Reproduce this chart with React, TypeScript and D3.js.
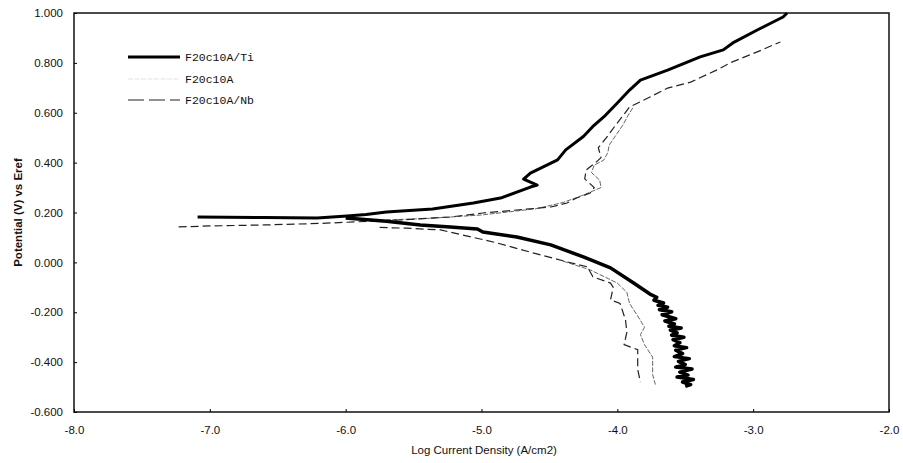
import { useEffect, useRef } from "react";
import * as d3 from "d3";

// [log current density, potential V]
const tiAnodic: [number, number][] = [
  [-7.09, 0.182], [-6.6, 0.18], [-6.21, 0.178], [-5.99, 0.186], [-5.85, 0.192], [-5.7, 0.202],
  [-5.36, 0.214], [-5.06, 0.238], [-4.86, 0.258], [-4.64, 0.302], [-4.59, 0.31], [-4.69, 0.334],
  [-4.64, 0.358], [-4.44, 0.411], [-4.38, 0.451], [-4.25, 0.505], [-4.18, 0.545], [-4.1, 0.583],
  [-4.0, 0.639], [-3.91, 0.691], [-3.83, 0.731], [-3.63, 0.771], [-3.39, 0.824], [-3.22, 0.852],
  [-3.15, 0.88], [-2.97, 0.932], [-2.78, 0.984], [-2.75, 1.0],
];
const tiCathodic: [number, number][] = [
  [-6.0, 0.178], [-5.7, 0.165], [-5.45, 0.15], [-5.23, 0.142], [-5.03, 0.134], [-4.99, 0.122],
  [-4.74, 0.102], [-4.49, 0.07], [-4.25, 0.022], [-4.05, -0.022], [-3.88, -0.083], [-3.76, -0.127],
  [-3.71, -0.14], [-3.73, -0.152], [-3.66, -0.163], [-3.7, -0.172], [-3.63, -0.18], [-3.69, -0.19],
  [-3.6, -0.198], [-3.67, -0.21], [-3.62, -0.218], [-3.57, -0.226], [-3.65, -0.235], [-3.58, -0.247],
  [-3.62, -0.256], [-3.53, -0.263], [-3.61, -0.272], [-3.56, -0.283], [-3.6, -0.292], [-3.51, -0.3],
  [-3.59, -0.31], [-3.54, -0.322], [-3.58, -0.334], [-3.49, -0.342], [-3.57, -0.352], [-3.52, -0.366],
  [-3.58, -0.378], [-3.47, -0.386], [-3.55, -0.397], [-3.5, -0.41], [-3.57, -0.42], [-3.45, -0.428],
  [-3.54, -0.44], [-3.48, -0.452], [-3.56, -0.46], [-3.44, -0.47], [-3.52, -0.48], [-3.46, -0.49],
  [-3.5, -0.497],
];
const baseAnodic: [number, number][] = [
  [-5.8, 0.168], [-5.4, 0.176], [-5.0, 0.19], [-4.6, 0.215], [-4.4, 0.24], [-4.25, 0.27],
  [-4.12, 0.3], [-4.13, 0.33], [-4.19, 0.36], [-4.17, 0.39], [-4.1, 0.41], [-4.07, 0.44],
  [-4.06, 0.47], [-4.01, 0.51], [-3.96, 0.55], [-3.92, 0.59], [-3.88, 0.625],
];
const baseCathodic: [number, number][] = [
  [-4.4, 0.005], [-4.2, -0.03], [-4.0, -0.083], [-3.93, -0.12], [-3.91, -0.165], [-3.85, -0.215],
  [-3.8, -0.26], [-3.83, -0.29], [-3.8, -0.33], [-3.74, -0.38], [-3.74, -0.45], [-3.72, -0.49],
];
const nbAnodic: [number, number][] = [
  [-7.23, 0.142], [-7.0, 0.146], [-6.6, 0.15], [-6.2, 0.156], [-5.9, 0.163], [-5.6, 0.17],
  [-5.23, 0.182], [-4.99, 0.198], [-4.74, 0.21], [-4.49, 0.222], [-4.37, 0.238], [-4.3, 0.258],
  [-4.2, 0.278], [-4.17, 0.3], [-4.24, 0.335], [-4.23, 0.37], [-4.16, 0.4], [-4.12, 0.42],
  [-4.14, 0.46], [-4.08, 0.5], [-4.02, 0.545], [-3.97, 0.58], [-3.91, 0.623], [-3.76, 0.663],
  [-3.63, 0.699], [-3.46, 0.723], [-3.27, 0.771], [-3.17, 0.8], [-2.97, 0.844], [-2.8, 0.884],
];
const nbCathodic: [number, number][] = [
  [-5.75, 0.14], [-5.55, 0.137], [-5.3, 0.13], [-4.9, 0.08], [-4.6, 0.035], [-4.37, 0.002],
  [-4.22, -0.018], [-4.18, -0.058], [-4.05, -0.083], [-4.03, -0.1], [-4.05, -0.15], [-3.98, -0.165],
  [-3.94, -0.23], [-3.93, -0.28], [-3.95, -0.33], [-3.85, -0.35], [-3.85, -0.43], [-3.83, -0.48],
];

const xTicks = [-8, -7, -6, -5, -4, -3, -2];
const yTicks = [1.0, 0.8, 0.6, 0.4, 0.2, 0.0, -0.2, -0.4, -0.6];
const legendNames = ["F20c10A/Ti", "F20c10A", "F20c10A/Nb"];

const W = 903, H = 463;
const left = 74, right = 889, top = 13, bottom = 412;

export default function App() {
  const xRef = useRef<SVGGElement>(null);
  const yRef = useRef<SVGGElement>(null);
  const x = d3.scaleLinear().domain([-8, -2]).range([left, right]);
  const y = d3.scaleLinear().domain([-0.6, 1.0]).range([bottom, top]);
  const line = d3.line<[number, number]>().x(d => x(d[0])).y(d => y(d[1]));

  useEffect(() => {
    const gx = d3.select(xRef.current!);
    gx.call(d3.axisBottom(x).tickValues(xTicks).tickFormat(d => (+d).toFixed(1)).tickSize(-3).tickPadding(14) as any);
    gx.select(".domain").remove();
    gx.selectAll("text").attr("font-family", "Liberation Sans, Arial, sans-serif").attr("font-size", 11.5).attr("fill", "#111");
    const gy = d3.select(yRef.current!);
    gy.call(d3.axisLeft(y).tickValues(yTicks).tickFormat(d => (+d).toFixed(3)).tickSize(-3).tickPadding(11) as any);
    gy.select(".domain").remove();
    gy.selectAll("text").attr("font-family", "Liberation Sans, Arial, sans-serif").attr("font-size", 11.5).attr("fill", "#111");
  });

  const legendY = [57, 79, 100];

  return (
    <svg width={W} height={H} style={{ position: "absolute", left: 0, top: 0, background: "#fff" }}>
      <rect x={left} y={top} width={right - left} height={bottom - top} fill="none" stroke="#111" strokeWidth={1.5} />
      <g ref={xRef} transform={`translate(0,${bottom})`} />
      <g ref={yRef} transform={`translate(${left},0)`} />

      <path d={line(baseAnodic)!} fill="none" stroke="#555" strokeWidth={0.9} strokeDasharray="5,1.5" />
      <path d={line(baseCathodic)!} fill="none" stroke="#555" strokeWidth={0.9} strokeDasharray="5,1.5" />
      <path d={line(nbAnodic)!} fill="none" stroke="#222" strokeWidth={1.2} strokeDasharray="8,4" />
      <path d={line(nbCathodic)!} fill="none" stroke="#222" strokeWidth={1.2} strokeDasharray="8,4" />
      <path d={line(tiAnodic)!} fill="none" stroke="#000" strokeWidth={3} strokeLinejoin="round" />
      <path d={line(tiCathodic)!} fill="none" stroke="#000" strokeWidth={3.5} strokeLinejoin="round" />

      <g fontFamily="Liberation Mono, Courier New, monospace" fontSize={11.5} fill="#111">
        <line x1={128} x2={180} y1={legendY[0]} y2={legendY[0]} stroke="#000" strokeWidth={3} />
        <line x1={128} x2={180} y1={legendY[1]} y2={legendY[1]} stroke="#ccc" strokeWidth={0.6} strokeDasharray="5,1.5" />
        <line x1={128} x2={180} y1={legendY[2]} y2={legendY[2]} stroke="#222" strokeWidth={1.2} strokeDasharray="16,5" />
        {legendNames.map((n, i) => (
          <text key={n} x={185} y={legendY[i]} dy="0.35em">{n}</text>
        ))}
      </g>

      <text x={484} y={454} textAnchor="middle" fontFamily="Liberation Sans, Arial, sans-serif" fontSize={11.5} fill="#111">
        Log Current Density (A/cm2)
      </text>
      <text transform={`translate(22,${(top + bottom) / 2}) rotate(-90)`} textAnchor="middle" fontFamily="Liberation Sans, Arial, sans-serif" fontSize={11.5} fontWeight="bold" fill="#111">
        Potential (V) vs Eref
      </text>
    </svg>
  );
}
